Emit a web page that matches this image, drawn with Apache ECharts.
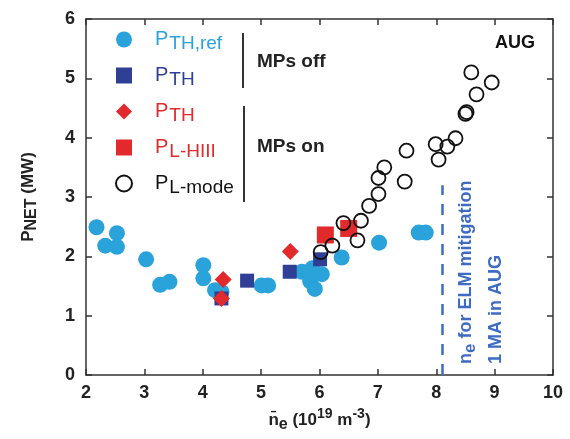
<!DOCTYPE html>
<html>
<head>
<meta charset="UTF-8">
<title>PNET vs ne, AUG</title>
<script src="https://cdn.jsdelivr.net/npm/echarts@6/dist/echarts.min.js"></script>
<style>
  html, body { margin: 0; padding: 0; background: #fff; }
  #chart { width: 570px; height: 439px; }
</style>
</head>
<body>
<div id="chart"></div>
<script>
// density (1e19 m^-3), power (MW)
var pthRefOff = [
    [2.18, 2.49], [2.53, 2.39], [2.33, 2.18], [2.53, 2.16], [3.03, 1.95],
    [3.27, 1.52], [3.43, 1.57], [4.01, 1.85], [4.01, 1.63], [4.21, 1.43],
    [4.32, 1.40], [5.01, 1.51], [5.12, 1.51], [5.70, 1.74], [5.88, 1.80],
    [6.04, 1.70], [5.84, 1.58], [5.92, 1.45], [6.38, 1.98], [7.02, 2.23],
    [7.70, 2.40], [7.82, 2.40]
];
var pthOff = [[4.32, 1.29], [4.76, 1.59], [5.49, 1.74], [6.01, 1.95]];
var pthOn = [[4.35, 1.61], [4.32, 1.29], [5.50, 2.08]];
var plHiii = [[6.10, 2.36], [6.50, 2.47]];
var plMode = [
    [6.02, 2.07], [6.22, 2.18], [6.41, 2.56], [6.65, 2.27], [6.71, 2.60],
    [6.85, 2.85], [7.01, 3.05], [7.01, 3.32], [7.11, 3.50], [7.46, 3.26],
    [7.49, 3.78], [7.99, 3.89], [8.04, 3.63], [8.19, 3.85], [8.33, 3.99],
    [8.50, 4.40], [8.52, 4.43], [8.60, 5.10], [8.69, 4.73], [8.95, 4.93]
];
var mitigationNe = 8.1;      // dashed limit
var mitigationTop = 3.2;

var FONT = "'Liberation Sans', Arial, sans-serif";
var cBlue = '#2aa3db', cNavy = '#2f3f96', cRed = '#e2292b', cBlack = '#111';
var cLine = '#3d6cc2';

var myChart = echarts.init(document.getElementById('chart'));

function legendRich(key, color) {
    var r = {};
    // left padding on P pushes the text away from the icon
    r['p' + key] = {fontFamily: FONT, fontSize: 20, color: color, lineHeight: 20, verticalAlign: 'top', padding: [0, 0, 0, 18]};
    r['s' + key] = {fontFamily: FONT, fontSize: 19, color: color, lineHeight: 19, padding: [8, 0, 0, 1]};
    return r;
}
var rich = Object.assign({}, legendRich('c', cBlue), legendRich('n', cNavy),
    legendRich('r', cRed), legendRich('k', cBlack));

var legendText = {
    'PTH,ref': '{pc|P}{sc|TH,ref}',
    'PTH off': '{pn|P}{sn|TH}',
    'PTH on': '{pr|P}{sr|TH}',
    'PL-HIII': '{pr|P}{sr|L-HIII}',
    'PL-mode': '{pk|P}{sk|L-mode}'
};

function axisCommon(show) {
    return {
        type: 'value',
        axisLine: {show: true, onZero: false, lineStyle: {color: '#333', width: 1.5}},
        axisTick: {show: true, inside: true, length: 6, lineStyle: {color: '#333', width: 1.5}},
        splitLine: {show: false},
        axisLabel: {show: show, fontFamily: FONT, fontSize: 18, fontWeight: 'bold', color: '#222'}
    };
}

var xBottom = Object.assign(axisCommon(true), {
    position: 'bottom', min: 2, max: 10, interval: 1,
    name: '{n|n\u0304}{s|e}{t| (10}{u|19}{t| m}{u|-3}{t|)}',
    nameLocation: 'middle', nameGap: 29,
    nameTextStyle: {
        rich: {
            n: {fontFamily: FONT, fontSize: 17, fontWeight: 'bold', color: '#222', lineHeight: 17, verticalAlign: 'top'},
            s: {fontFamily: FONT, fontSize: 16, fontWeight: 'bold', color: '#222', lineHeight: 16, padding: [8, 0, 0, 0]},
            t: {fontFamily: FONT, fontSize: 17, fontWeight: 'bold', color: '#222', lineHeight: 17, verticalAlign: 'top'},
            u: {fontFamily: FONT, fontSize: 14, fontWeight: 'bold', color: '#222', lineHeight: 14, verticalAlign: 'top', padding: [-5, 0, 0, 0]}
        }
    }
});
xBottom.axisLabel.margin = 9;
var xTop = Object.assign(axisCommon(false), {position: 'top', min: 2, max: 10, interval: 1});

var yLeft = Object.assign(axisCommon(true), {
    position: 'left', min: 0, max: 6, interval: 1,
    name: '{p|P}{s|NET}{t| (MW)}',
    nameLocation: 'middle', nameGap: 49, nameRotate: 90,
    nameTextStyle: {
        rich: {
            p: {fontFamily: FONT, fontSize: 17, fontWeight: 'bold', color: '#222', lineHeight: 17, verticalAlign: 'top'},
            s: {fontFamily: FONT, fontSize: 16, fontWeight: 'bold', color: '#222', lineHeight: 16, padding: [7, 0, 0, 0]},
            t: {fontFamily: FONT, fontSize: 17, fontWeight: 'bold', color: '#222', lineHeight: 17, verticalAlign: 'top'}
        }
    }
});
yLeft.axisLabel.margin = 11;
var yRight = Object.assign(axisCommon(false), {position: 'right', min: 0, max: 6, interval: 1});

function scatter(name, data, symbol, size, style) {
    return {
        name: name, type: 'scatter', data: data,
        xAxisIndex: 0, yAxisIndex: 0,
        symbol: symbol, symbolSize: size,
        itemStyle: Object.assign({opacity: 1}, style),
        emphasis: {disabled: true}
    };
}

var series = [
    scatter('PTH,ref', pthRefOff, 'circle', 16, {color: cBlue}),
    scatter('PTH off', pthOff, 'rect', 14, {color: cNavy}),
    scatter('PTH on', pthOn, 'diamond', 17, {color: cRed}),
    scatter('PL-HIII', plHiii, 'rect', 17, {color: cRed}),
    scatter('PL-mode', plMode, 'circle', 14, {color: 'rgba(0,0,0,0)', borderColor: cBlack, borderWidth: 1.8})
];
series[0].markLine = {
    silent: true, symbol: 'none', label: {show: false},
    lineStyle: {color: cLine, width: 2.5, type: [11, 9]},
    data: [[{coord: [mitigationNe, 0]}, {coord: [mitigationNe, mitigationTop]}]]
};

option = {
    animation: false,
    backgroundColor: '#fff',
    grid: {left: 86, right: 17, top: 19, bottom: 64},
    xAxis: [xBottom, xTop],
    yAxis: [yLeft, yRight],
    legend: {
        orient: 'vertical', left: 110, top: 21,
        itemWidth: 16, itemHeight: 16, itemGap: 9,
        selectedMode: false,
        data: ['PTH,ref', 'PTH off', 'PTH on', 'PL-HIII', 'PL-mode'],
        formatter: function (name) { return legendText[name]; },
        textStyle: {rich: rich}
    },
    graphic: [
        {type: 'line', shape: {x1: 243, y1: 33, x2: 243, y2: 88}, style: {stroke: '#333', lineWidth: 2}},
        {type: 'line', shape: {x1: 244, y1: 106, x2: 244, y2: 202}, style: {stroke: '#333', lineWidth: 2}},
        {type: 'text', x: 257, y: 62, style: {text: 'MPs off', fontFamily: FONT, fontSize: 19, fontWeight: 'bold', fill: '#222', verticalAlign: 'middle'}},
        {type: 'text', x: 257, y: 147, style: {text: 'MPs on', fontFamily: FONT, fontSize: 19, fontWeight: 'bold', fill: '#222', verticalAlign: 'middle'}},
        {type: 'text', x: 495, y: 43, style: {text: 'AUG', fontFamily: FONT, fontSize: 18, fontWeight: 'bold', fill: '#111', verticalAlign: 'middle'}},
        {
            type: 'text', x: 466, y: 364, rotation: Math.PI / 2,
            style: {
                text: '{n|n}{s|e}{t| for ELM mitigation}', verticalAlign: 'middle', align: 'left',
                rich: {
                    n: {fontFamily: FONT, fontSize: 18, fontWeight: 'bold', fill: cLine, lineHeight: 18, verticalAlign: 'top'},
                    s: {fontFamily: FONT, fontSize: 17, fontWeight: 'bold', fill: cLine, lineHeight: 17, padding: [8, 0, 0, 0]},
                    t: {fontFamily: FONT, fontSize: 18, fontWeight: 'bold', fill: cLine, lineHeight: 18, verticalAlign: 'top'}
                }
            }
        },
        {
            type: 'text', x: 496, y: 364, rotation: Math.PI / 2,
            style: {text: '1 MA in AUG', fontFamily: FONT, fontSize: 18, fontWeight: 'bold', fill: cLine, verticalAlign: 'middle', align: 'left'}
        }
    ],
    series: series
};

myChart.setOption(option);
</script>
</body>
</html>
